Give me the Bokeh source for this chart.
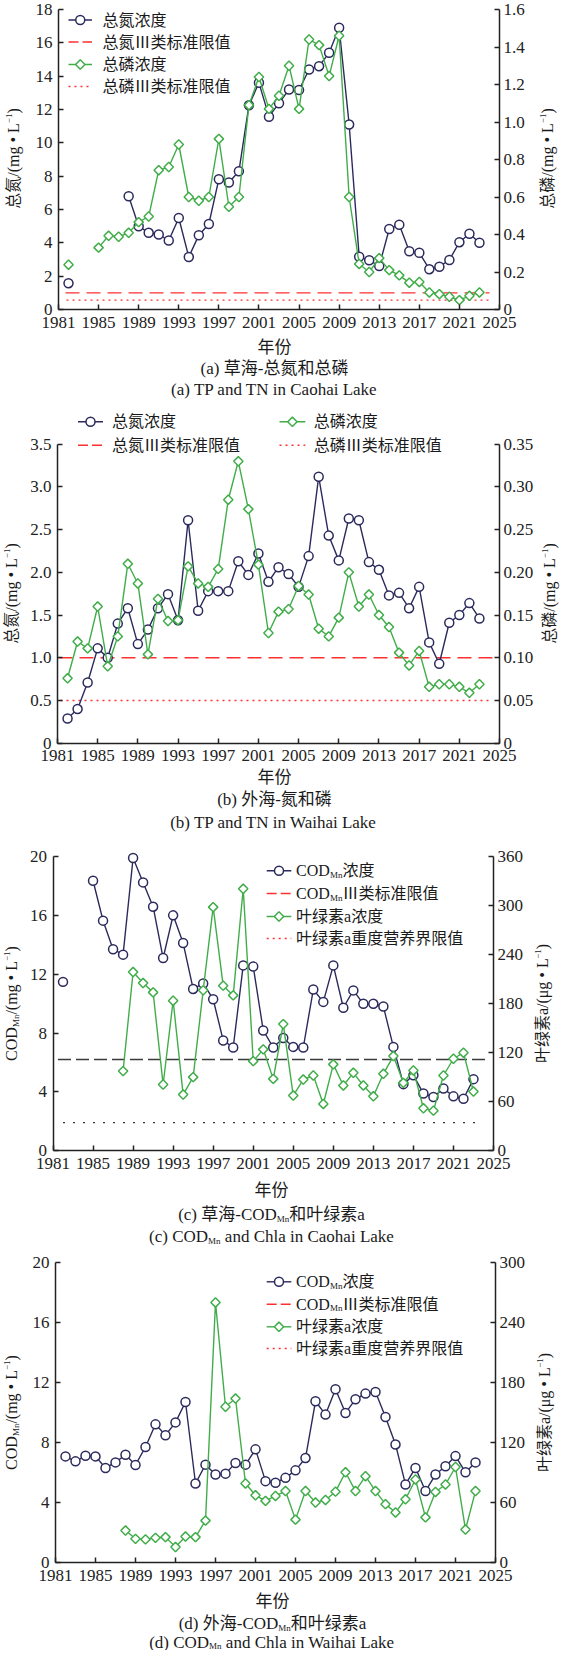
import math
from bokeh.plotting import figure
from bokeh.models import Range1d, LinearAxis, FixedTicker, CustomJSTickFormatter, Label
from bokeh.layouts import column
from bokeh.embed import file_html
from bokeh.resources import INLINE

NAN = float("nan")

# ---------------- data ----------------
X_TICKS = [1981, 1985, 1989, 1993, 1997, 2001, 2005, 2009, 2013, 2017, 2021, 2025]

# (a) Caohai TN / TP
A_TN_YEARS = [1982] + list(range(1988, 2024))
A_TN = [1.58, 6.8, 5.0, 4.6, 4.5, 4.14, 5.49, 3.15, 4.46, 5.13,
        7.82, 7.62, 8.29, 12.26, 13.6, 11.57, 12.38, 13.2, 13.17, 14.4,
        14.6, 15.4, 16.9, 11.1, 3.17, 2.95, 2.61, 4.83, 5.09, 3.5,
        3.4, 2.42, 2.57, 2.97, 4.04, 4.55, 4.0]
A_TP_YEARS = [1982] + list(range(1985, 2024))
A_TP = [0.239, 0.33, 0.393, 0.388, 0.409, 0.466, 0.496, 0.743, 0.76, 0.88, 0.60,
        0.58, 0.60, 0.91, 0.548, 0.60, 1.09, 1.24, 1.07, 1.14, 1.30,
        1.07, 1.44, 1.41, 1.245, 1.46, 0.60, 0.243, 0.20, 0.274, 0.21,
        0.182, 0.143, 0.147, 0.091, 0.082, 0.068, 0.05, 0.073, 0.091]
A_TN_STD = 1.0
A_TP_STD = 0.05
A_Y_TICKS = [0, 2, 4, 6, 8, 10, 12, 14, 16, 18]
A_R_TICKS = [0, 0.2, 0.4, 0.6, 0.8, 1.0, 1.2, 1.4, 1.6]

# (b) Waihai TN / TP
B_YEARS = list(range(1982, 2024))
B_TN = [0.29, 0.40, 0.71, 1.11, 1.0, 1.40, 1.58, 1.16, 1.33, 1.58,
        1.745, 1.44, 2.61, 1.55, 1.78, 1.78, 1.78, 2.13, 1.97, 2.22,
        1.89, 2.06, 1.98, 1.83, 2.19, 3.12, 2.43, 2.14, 2.63, 2.61,
        2.12, 2.03, 1.73, 1.76, 1.58, 1.83, 1.18, 0.93, 1.41, 1.50, 1.64, 1.46]
B_TP = [0.076, 0.119, 0.111, 0.160, 0.090, 0.125, 0.21, 0.187, 0.104, 0.169,
        0.143, 0.144, 0.207, 0.187, 0.183, 0.204, 0.285, 0.330, 0.274, 0.209,
        0.129, 0.154, 0.157, 0.184, 0.174, 0.134, 0.125, 0.147, 0.20, 0.16,
        0.174, 0.15, 0.136, 0.106, 0.091, 0.108, 0.066, 0.069, 0.069, 0.066, 0.059, 0.069]
B_TN_STD = 1.0
B_TP_STD = 0.05
B_Y_TICKS = [0, 0.5, 1.0, 1.5, 2.0, 2.5, 3.0, 3.5]
B_R_TICKS = [0, 0.05, 0.1, 0.15, 0.2, 0.25, 0.3, 0.35]

# (c) Caohai COD_Mn / Chla
C_COD_YEARS = [1982] + list(range(1985, 2024))
C_COD = [11.48, 18.35, 15.64, 13.7, 13.33, 19.9, 18.24, 16.59, 13.1, 16.0, 14.12,
         11.0, 11.37, 10.3, 7.5, 7.02, 12.6, 12.52, 8.18, 7.02, 7.66,
         7.06, 7.02, 10.96, 10.12, 12.6, 9.72, 10.9, 9.99, 9.99, 9.81,
         7.06, 4.53, 5.14, 3.89, 3.66, 4.23, 3.7, 3.54, 4.87]
C_CHLA_YEARS = list(range(1988, 2024))
C_CHLA = [97.5, 218.7, 205.2, 193.8, 81.1, 183.6, 68.8, 90.1, 196.3, 298.1,
          202.0, 190.1, 320.5, 109.7, 124.1, 88.0, 155.0, 67.6, 87.2, 92.1,
          57.3, 105.7, 79.9, 95.4, 79.9, 66.7, 94.2, 115.9, 83.1, 98.3,
          52.0, 49.1, 92.1, 112.6, 120.0, 72.5]
C_COD_STD = 6.2
C_CHLA_LIMIT = 34.5
C_Y_TICKS = [0, 4, 8, 12, 16, 20]
C_R_TICKS = [0, 60, 120, 180, 240, 300, 360]

# (d) Waihai COD_Mn / Chla
D_COD_YEARS = list(range(1982, 2024))
D_COD = [7.08, 6.75, 7.12, 7.08, 6.31, 6.68, 7.19, 6.51, 7.71, 9.22,
         8.49, 9.35, 10.71, 5.27, 6.53, 5.87, 5.93, 6.64, 6.53, 7.55,
         5.43, 5.32, 5.65, 6.15, 6.97, 10.76, 9.87, 11.56, 9.98, 10.89,
         11.27, 11.38, 9.71, 7.88, 5.21, 6.31, 4.77, 5.87, 6.42, 7.1, 6.02, 6.68]
D_CHLA_YEARS = list(range(1988, 2024))
D_CHLA = [32, 23.7, 23.1, 24.7, 25.4, 15.5, 26, 25.4, 41.9, 260.3,
          155.9, 164.1, 79.1, 67.3, 61.7, 66.6, 71.5, 42.9, 71.5, 60,
          62.6, 70.9, 90.3, 71.5, 86.4, 71.5, 58.4, 50.1, 63.3, 83.1,
          45.2, 70.6, 78.1, 95.6, 33, 71.5]
D_Y_TICKS = [0, 4, 8, 12, 16, 20]
D_R_TICKS = [0, 60, 120, 180, 240, 300]

# extents of the reference lines (years)
REF_X_A_DASH = [1981.7, 2024.0]
REF_X_A_DOT = [1981.8, 2024.0]
REF_X_B_DASH = [1981.1, 2024.3]
REF_X_B_DOT = [1981.3, 2024.3]
REF_X_C_DASH = [1981.5, 2024.4]
REF_X_C_DOT = [1982.0, 2023.7]

# ---------------- style ----------------
NAVY = "#2b2a5c"
GREEN = "#41ad4a"
RED = "#ff3030"
DARK = "#3a3a3a"
TXT = "#1a1a1a"
FONT = "Liberation Serif, Noto Sans CJK SC"
PAGE_W = 561

WIDTHS = {' ': .25, '(': .333, ')': .333, '-': .333, '/': .278, '\u2022': .35, '.': .25,
          'a': .444, 'b': .5, 'c': .444, 'd': .5, 'e': .444, 'g': .5, 'h': .5, 'i': .278,
          'k': .5, 'l': .278, 'm': .778, 'n': .5, 'o': .5, 'C': .667, 'D': .722,
          'L': .611, 'M': .889, 'N': .722, 'O': .722, 'P': .556, 'T': .611, 'W': .944,
          '\u03bc': .5, '1': .5, '\u2212': .564}


def tw(s, size):
    return size * sum(WIDTHS.get(c, 1.0 if ord(c) > 0x2000 else .5) for c in s)


def add_text(p, parts, x, y, angle=0.0, align="center", color=TXT):
    """x, y in page pixels (px range); parts = [(text, size, baseline shift)]"""
    total = sum(tw(t, s) for t, s, _ in parts)
    pos = -total / 2 if align == "center" else 0.0
    if angle:
        d, n = (0, -1), (1, 0)
    else:
        d, n = (1, 0), (0, 1)
    for t, s, sh in parts:
        lead = len(t) - len(t.lstrip(" "))
        if lead:
            pos += tw(" " * lead, s)
            t = t.lstrip(" ")
        p.add_layout(Label(x=x + d[0] * pos + n[0] * sh, y=y + d[1] * pos + n[1] * sh,
                           x_range_name="px", y_range_name="px", text=t, angle=angle,
                           text_font=FONT, text_font_size=f"{s}px", text_color=color,
                           text_align="left", text_baseline="middle"))
        pos += tw(t, s)


def with_gaps(years, vals):
    xs, ys = [], []
    for i, (x, y) in enumerate(zip(years, vals)):
        if i and x - years[i - 1] > 1:
            xs.append(NAN)
            ys.append(NAN)
        xs.append(x)
        ys.append(y)
    return xs, ys


def marker(p, xs, ys, kind, rn="default", xn="default"):
    if kind == "circle":
        p.scatter(xs, ys, marker="circle", size=9, line_color=NAVY, line_width=1.5,
                  fill_color="white", y_range_name=rn, x_range_name=xn)
    else:
        p.scatter(xs, ys, marker="square", angle=math.pi / 4, size=6.6, line_color=GREEN,
                  line_width=1.5, fill_color="white", y_range_name=rn, x_range_name=xn)


def series(p, years, vals, kind, rn="default"):
    xs, ys = with_gaps(years, vals)
    color = NAVY if kind == "circle" else GREEN
    p.line(xs, ys, line_color=color, line_width=1.4, y_range_name=rn)
    marker(p, years, vals, kind, rn)


def fmt(dec):
    return CustomJSTickFormatter(args=dict(d=dec),
                                 code="return tick == 0 ? '0' : tick.toFixed(d);")


def style_axis(ax, standoff):
    ax.axis_line_color = "#222222"
    ax.axis_line_width = 1.5
    ax.major_tick_line_color = "#222222"
    ax.major_tick_line_width = 1.5
    ax.major_tick_in = 5
    ax.major_tick_out = 0
    ax.minor_tick_line_color = None
    ax.major_label_text_font = "Liberation Serif"
    ax.major_label_text_font_size = "17px"
    ax.major_label_text_color = "#222222"
    ax.major_label_standoff = standoff


def make_panel(g):
    """The whole figure is the frame; page pixel geometry -> data ranges."""
    T, B, FL, FR, FB, AT = g["top"], g["bottom"], g["fl"], g["fr"], g["fb"], g["at"]
    H = B - T
    kx = 44.0 / (FR - FL)
    ky = g["ymax"] / (FB - AT)
    kr = g["rmax"] / (FB - AT)
    p = figure(frame_width=PAGE_W, frame_height=H, min_border=0,
               x_axis_location=None, y_axis_location=None,
               x_range=Range1d(1981 + (8 - FL) * kx, 1981 + (8 + PAGE_W - FL) * kx),
               y_range=Range1d((FB - B) * ky, (FB - T) * ky),
               output_backend="svg", toolbar_location=None)
    p.extra_y_ranges = {"right": Range1d((FB - B) * kr, (FB - T) * kr), "px": Range1d(B, T)}
    p.extra_x_ranges = {"px": Range1d(8, 8 + PAGE_W)}
    p.xgrid.visible = False
    p.ygrid.visible = False
    p.outline_line_color = None
    p.background_fill_color = "white"
    p.border_fill_color = "white"

    xa = LinearAxis(fixed_location=0, bounds=(1981, 2025), ticker=FixedTicker(ticks=X_TICKS))
    style_axis(xa, 7)
    p.add_layout(xa, "below")
    ya = LinearAxis(fixed_location=1981, bounds=(0, g["ymax"]),
                    ticker=FixedTicker(ticks=g["yticks"]), formatter=fmt(g["ydec"]))
    style_axis(ya, 6)
    p.add_layout(ya, "left")
    ra = LinearAxis(fixed_location=2025, y_range_name="right", bounds=(0, g["rmax"]),
                    ticker=FixedTicker(ticks=g["rticks"]), formatter=fmt(g["rdec"]))
    style_axis(ra, 4)
    p.add_layout(ra, "right")
    return p


def legend_sample(p, x0, x1, y, kind):
    xs = [x0, x1]
    ys = [y, y]
    if kind in ("circle", "diamond"):
        p.line(xs, ys, line_color=NAVY if kind == "circle" else GREEN, line_width=1.4,
               x_range_name="px", y_range_name="px")
        marker(p, [(x0 + x1) / 2], [y], kind, "px", "px")
    elif kind == "dash":
        p.line(xs, ys, line_color=RED, line_width=1.4, line_dash="10 4",
               x_range_name="px", y_range_name="px")
    else:
        p.line(xs, ys, line_color=RED, line_width=1.4, line_dash="2 4",
               x_range_name="px", y_range_name="px")


SUP = [("\u22121", 9, -4.5), (")", 16, 0)]

# ---------------- panel (a) ----------------
pa = make_panel(dict(top=8, bottom=408, fl=66, fr=507, fb=317, at=17, ymax=18, rmax=1.6,
                     yticks=A_Y_TICKS, rticks=A_R_TICKS, ydec=0, rdec=1))
pa.line(REF_X_A_DASH, [A_TN_STD] * 2, line_color=RED, line_width=1.4, line_dash="14 7")
pa.line(REF_X_A_DOT, [A_TP_STD] * 2, line_color=RED, line_width=1.4, line_dash="2 4",
        y_range_name="right")
series(pa, A_TN_YEARS, A_TN, "circle")
series(pa, A_TP_YEARS, A_TP, "diamond", "right")
rows = [27.5, 49.5, 72.0, 94.0]
items = [("circle", "总氮浓度"), ("dash", "总氮Ⅲ类标准限值"), ("diamond", "总磷浓度"), ("dot", "总磷Ⅲ类标准限值")]
for r, (k, t) in zip(rows, items):
    legend_sample(pa, 76, 99.5, r, k)
    add_text(pa, [(t, 16, 0)], 110, r, align="left")
add_text(pa, [("总氮/(mg \u2022 L", 16, 0)] + SUP, 21, 166, angle=math.pi / 2)
add_text(pa, [("总磷/(mg \u2022 L", 16, 0)] + SUP, 555, 166, angle=math.pi / 2)
add_text(pa, [("年份", 17, 0)], 282, 355)
add_text(pa, [("(a) 草海-总氮和总磷", 17, 0)], 282, 375.5)
add_text(pa, [("(a) TP and TN in Caohai Lake", 17, 0)], 282, 396.5)

# ---------------- panel (b) ----------------
pb = make_panel(dict(top=408, bottom=843, fl=65, fr=507, fb=750.7, at=451.7, ymax=3.5, rmax=0.35,
                     yticks=B_Y_TICKS, rticks=B_R_TICKS, ydec=1, rdec=2))
pb.line(REF_X_B_DASH, [B_TN_STD] * 2, line_color=RED, line_width=1.4, line_dash="14 7")
pb.line(REF_X_B_DOT, [B_TP_STD] * 2, line_color=RED, line_width=1.4, line_dash="2 4",
        y_range_name="right")
series(pb, B_YEARS, B_TN, "circle")
series(pb, B_YEARS, B_TP, "diamond", "right")
legend_sample(pb, 85.5, 110.5, 429.3, "circle")
add_text(pb, [("总氮浓度", 16, 0)], 119.6, 429.3, align="left")
legend_sample(pb, 85.5, 110.5, 452.7, "dash")
add_text(pb, [("总氮Ⅲ类标准限值", 16, 0)], 119.6, 452.7, align="left")
legend_sample(pb, 287, 312.8, 429.3, "diamond")
add_text(pb, [("总磷浓度", 16, 0)], 321.3, 429.3, align="left")
legend_sample(pb, 287, 312.8, 452.7, "dot")
add_text(pb, [("总磷Ⅲ类标准限值", 16, 0)], 321.3, 452.7, align="left")
add_text(pb, [("总氮/(mg \u2022 L", 16, 0)] + SUP, 19, 601, angle=math.pi / 2)
add_text(pb, [("总磷/(mg \u2022 L", 16, 0)] + SUP, 557, 601, angle=math.pi / 2)
add_text(pb, [("年份", 17, 0)], 282, 785)
add_text(pb, [("(b) 外海-氮和磷", 17, 0)], 282, 807)
add_text(pb, [("(b) TP and TN in Waihai Lake", 17, 0)], 282, 830)

# ---------------- panel (c) ----------------
pc = make_panel(dict(top=843, bottom=1256, fl=60.5, fr=501, fb=1158.3, at=864, ymax=20, rmax=360,
                     yticks=C_Y_TICKS, rticks=C_R_TICKS, ydec=0, rdec=0))
pc.line(REF_X_C_DASH, [C_COD_STD] * 2, line_color=DARK, line_width=1.4, line_dash="13 5")
pc.line(REF_X_C_DOT, [C_CHLA_LIMIT] * 2, line_color=DARK, line_width=1.4, line_dash="2 8",
        y_range_name="right")
series(pc, C_COD_YEARS, C_COD, "circle")
series(pc, C_CHLA_YEARS, C_CHLA, "diamond", "right")


def cod_legend(p, rows):
    k = ["circle", "dash", "diamond", "dot"]
    texts = [
        [("COD", 16, 0), ("Mn", 9, 4), ("浓度", 16, 0)],
        [("COD", 16, 0), ("Mn", 9, 4), ("Ⅲ类标准限值", 16, 0)],
        [("叶绿素a浓度", 16, 0)],
        [("叶绿素a重度营养界限值", 16, 0)],
    ]
    for r, kk, t in zip(rows, k, texts):
        legend_sample(p, 274.2, 298.8, r, kk)
        add_text(p, t, 303.6, r, align="left")


cod_legend(pc, [878.3, 901.0, 924.0, 946.0])
COD_LABEL = [("COD", 16, 0), ("Mn", 9, 4), ("/(mg \u2022 L", 16, 0)] + SUP
CHLA_LABEL = [("叶绿素a/(\u03bcg \u2022 L", 16, 0)] + SUP
add_text(pc, COD_LABEL, 19, 1011, angle=math.pi / 2)
add_text(pc, CHLA_LABEL, 550, 1011, angle=math.pi / 2)
add_text(pc, [("年份", 17, 0)], 279, 1198)
add_text(pc, [("(c) 草海-COD", 17, 0), ("Mn", 9, 4), ("和叶绿素a", 17, 0)], 279, 1222)
add_text(pc, [("(c) COD", 17, 0), ("Mn", 9, 4), (" and Chla in Caohai Lake", 17, 0)], 279, 1244)

# ---------------- panel (d) ----------------
pd = make_panel(dict(top=1256, bottom=1658, fl=63, fr=503, fb=1570, at=1270.3, ymax=20, rmax=300,
                     yticks=D_Y_TICKS, rticks=D_R_TICKS, ydec=0, rdec=0))
series(pd, D_COD_YEARS, D_COD, "circle")
series(pd, D_CHLA_YEARS, D_CHLA, "diamond", "right")
cod_legend(pd, [1289.3, 1311.7, 1334.3, 1356.0])
add_text(pd, COD_LABEL, 19, 1420, angle=math.pi / 2)
add_text(pd, CHLA_LABEL, 552, 1420, angle=math.pi / 2)
add_text(pd, [("年份", 17, 0)], 280, 1609)
add_text(pd, [("(d) 外海-COD", 17, 0), ("Mn", 9, 4), ("和叶绿素a", 17, 0)], 280, 1631)
add_text(pd, [("(d) COD", 17, 0), ("Mn", 9, 4), (" and Chla in Waihai Lake", 17, 0)], 280, 1649.5)

layout = column(pa, pb, pc, pd)
open("out.html", "w").write(file_html(layout, INLINE, title="chart"))
